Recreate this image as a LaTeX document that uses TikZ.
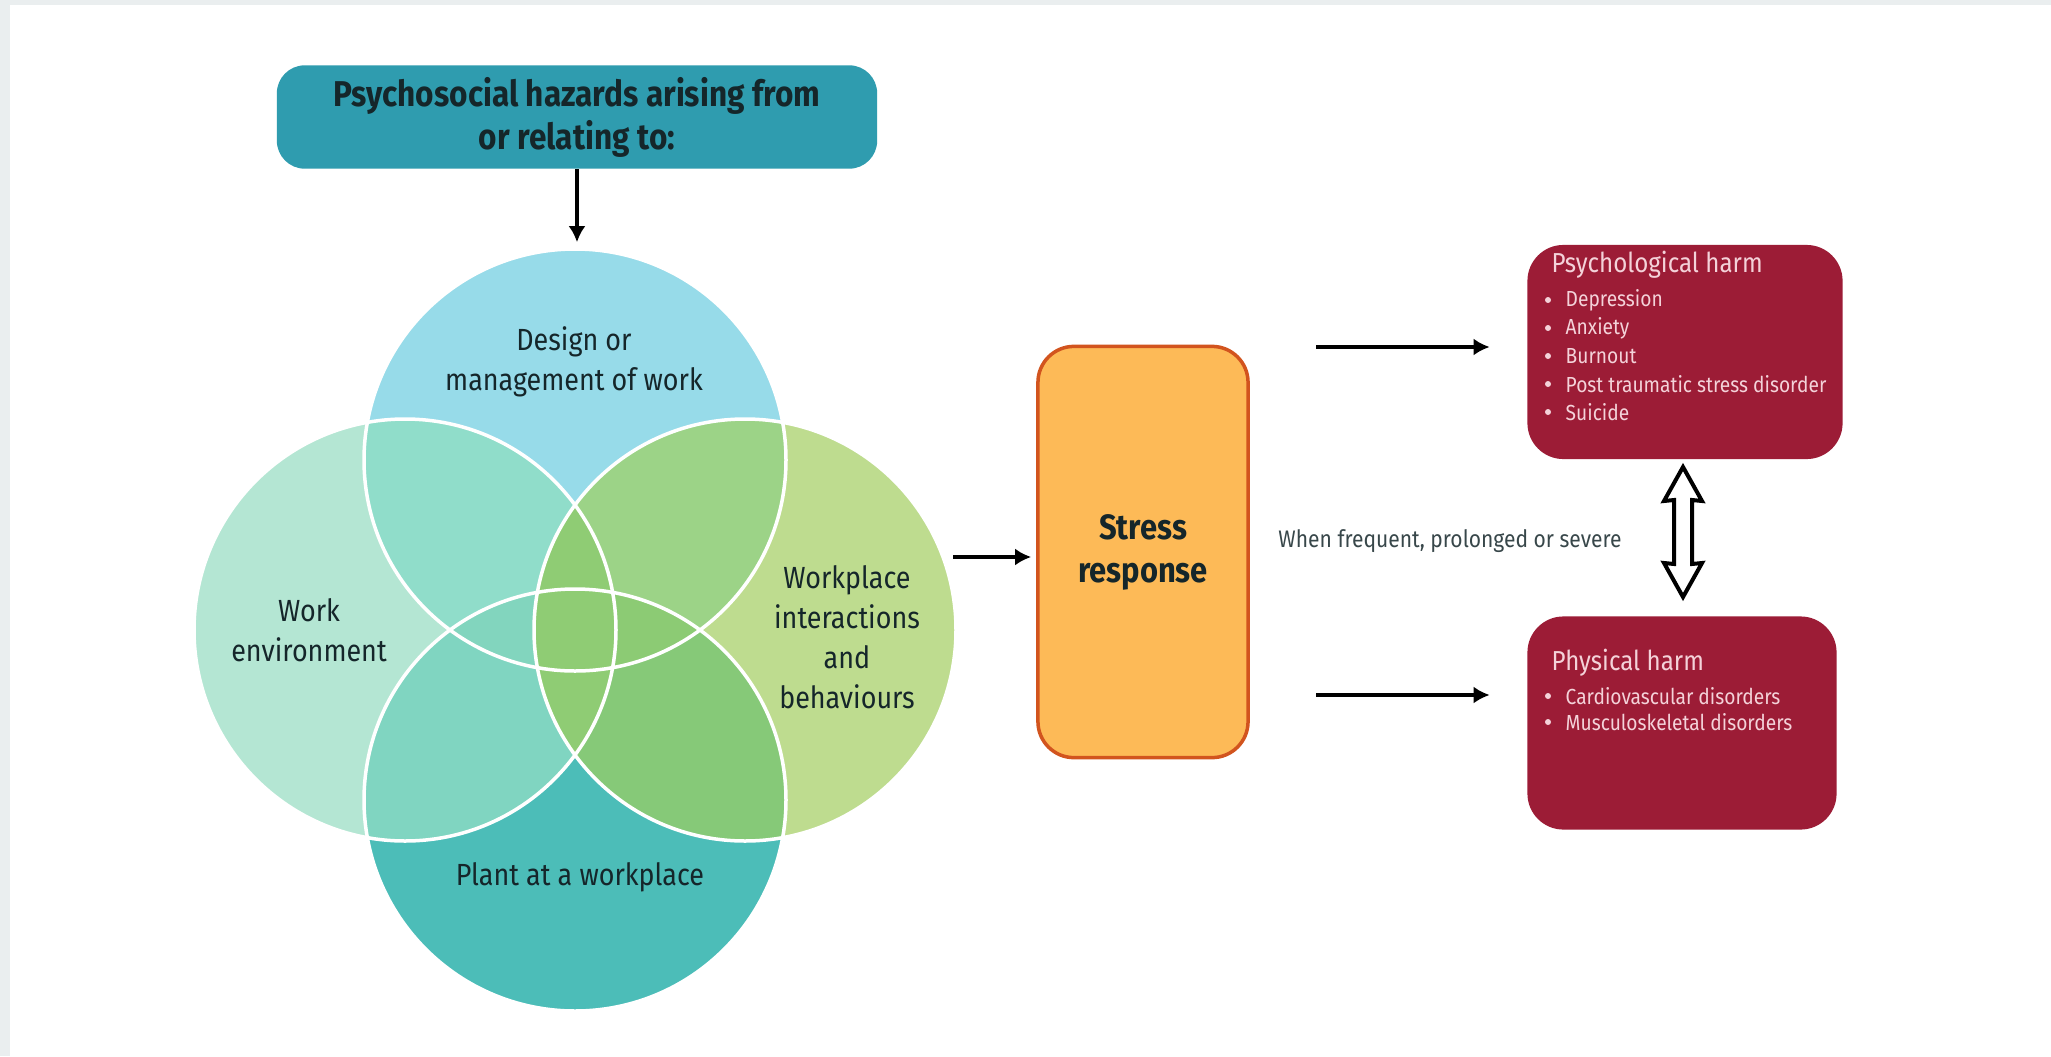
\documentclass[tikz,border=0pt]{standalone}
\usepackage{fontspec}
\setmainfont{Fira Sans}[FakeStretch=0.88]
\usetikzlibrary{arrows.meta}

\definecolor{framegray}{HTML}{EAEEEF}
\definecolor{hazardteal}{HTML}{2F9CAF}
\definecolor{inkdark}{HTML}{15262A}
\definecolor{designblue}{HTML}{97DBE9}
\definecolor{environmint}{HTML}{B4E6D3}
\definecolor{interactgreen}{HTML}{BEDC8F}
\definecolor{plantteal}{HTML}{4CBDB8}
\definecolor{mintA}{HTML}{90DDCA}
\definecolor{greenA}{HTML}{9CD387}
\definecolor{mintB}{HTML}{80D5C1}
\definecolor{greenB}{HTML}{86C978}
\definecolor{mintC}{HTML}{82D5BE}
\definecolor{greenC}{HTML}{8CCB74}
\definecolor{greenD}{HTML}{8FCC74}
\definecolor{stressfill}{HTML}{FDBA57}
\definecolor{stressedge}{HTML}{D2541E}
\definecolor{harmred}{HTML}{9C1C36}
\definecolor{harmpink}{HTML}{F4D2D9}

\begin{document}
\begin{tikzpicture}[x=0.01cm,y=0.01cm,
    arr/.style={line width=0.04cm,-{Latex[length=0.16cm,width=0.17cm]}},
    vcirc/.style={circle,minimum size=4.22cm,inner sep=0pt},
    venntxt/.style={align=center,text=inkdark,font=\fontsize{8.7}{11.4}\selectfont},
    harmbox/.style={fill=harmred,rounded corners=0.36cm,inner sep=0pt},
    harmhead/.style={anchor=west,inner sep=0pt,text=harmpink,font=\fontsize{7.8}{9}\selectfont},
    harmitem/.style={anchor=west,inner sep=0pt,text=harmpink,font=\fontsize{6.2}{7}\selectfont}]
\fill[framegray] (0,0) rectangle (2051,1056);
\fill[white] (10,0) rectangle (2051,1051);
\useasboundingbox (0,0) rectangle (2051,1056);

\node[fill=hazardteal,rounded corners=0.28cm,minimum width=6cm,minimum height=1.02cm,
      align=center,text=inkdark,font=\fontsize{10.2}{12.2}\selectfont\bfseries]
      (hazard) at (577,939) {Psychosocial hazards arising from\\or relating to:};

\node[vcirc] (design) at (575,596) {};
\node[vcirc] (environ) at (405,426) {};
\node[vcirc] (interact) at (745,426) {};
\node[vcirc] (plant) at (575,256) {};
\fill[designblue] (design.center) circle (211);
\fill[environmint] (environ.center) circle (211);
\fill[interactgreen] (interact.center) circle (211);
\fill[plantteal] (plant.center) circle (211);
\foreach \a/\b/\c in {design/environ/mintA,design/interact/greenA,plant/environ/mintB,plant/interact/greenB}
{
    \begin{scope}
        \clip (\a.center) circle (211);
        \fill[\c] (\b.center) circle (211);
    \end{scope}
}
\foreach \b/\c in {environ/mintC,interact/greenC}
{
    \begin{scope}
        \clip (design.center) circle (211);
        \clip (plant.center) circle (211);
        \fill[\c] (\b.center) circle (211);
    \end{scope}
}
\begin{scope}
    \clip (environ.center) circle (211);
    \fill[greenD] (interact.center) circle (211);
\end{scope}
\foreach \c in {design,environ,interact,plant}
    \draw[white,line width=0.035cm] (\c.center) circle (211);

\node[venntxt] (designtxt) at (574,694) {Design or\\management of work};
\node[venntxt] (environtxt) at (309,426) {Work\\environment};
\node[venntxt] (interacttxt) at (847,419) {Workplace\\interactions\\and\\behaviours};
\node[venntxt] (planttxt) at (580,179) {Plant at a workplace};

\node[fill=stressfill,draw=stressedge,line width=0.035cm,rounded corners=0.36cm,
      minimum width=2.1cm,minimum height=4.11cm,align=center,text=inkdark,
      font=\fontsize{10}{12.2}\selectfont\bfseries] (stress) at (1143,504) {Stress\\response};

\node[harmbox,minimum width=3.15cm,minimum height=2.14cm] (psych) at (1685,704) {};
\node[harmbox,minimum width=3.09cm,minimum height=2.13cm] (phys) at (1682,333) {};

\node[harmhead] (psychhead) at (1551,791) {Psychological harm};
\foreach \t [count=\i] in {Depression,Anxiety,Burnout,Post traumatic stress disorder,Suicide}
{
    \fill[harmpink] (1548,784-\i*28) circle (3);
    \node[harmitem] (psych-\i) at (1565,784-\i*28) {\t};
}
\node[harmhead] (physhead) at (1551,393) {Physical harm};
\foreach \t [count=\i] in {Cardiovascular disorders,Musculoskeletal disorders}
{
    \fill[harmpink] (1548,386-\i*26) circle (3);
    \node[harmitem] (phys-\i) at (1565,386-\i*26) {\t};
}

\node[text=inkdark!85,font=\fontsize{6.8}{8}\selectfont] (cond) at (1450,515) {When frequent, prolonged or severe};

\draw[arr,shorten >=0.06cm] (hazard.south) -- (hazard.south |- design.north);
\coordinate (vennout) at (953,499);
\draw[arr,shorten >=0.05cm] (vennout) -- (vennout -| stress.west);
\coordinate (upout) at (1316,709);
\draw[arr,shorten >=0.37cm] (upout) -- (upout -| psych.west);
\coordinate (lowout) at (1316,361);
\draw[arr,shorten >=0.37cm] (lowout) -- (lowout -| phys.west);

\coordinate (link) at (1683,524);
\draw[line width=0.04cm,fill=white,shift={(link)}]
    (0,65) -- (19,31) -- (9,32) -- (9,-32) -- (19,-31) -- (0,-65)
    -- (-19,-31) -- (-9,-32) -- (-9,32) -- (-19,31) -- cycle;
\end{tikzpicture}
\end{document}
